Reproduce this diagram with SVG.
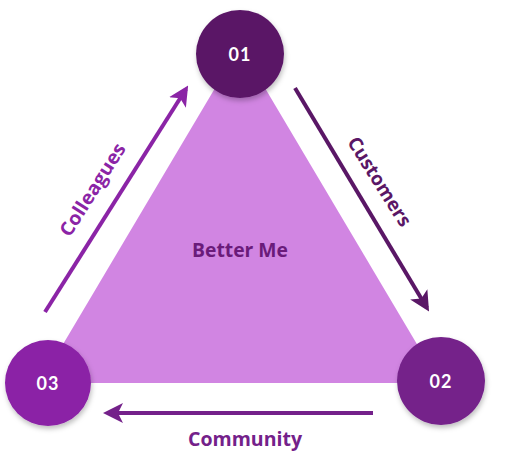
<svg xmlns="http://www.w3.org/2000/svg" width="512" height="459" viewBox="0 0 512 459">
  <defs>
    <style>
      .lbl { font-family: "Open Sans", "Liberation Sans", sans-serif; font-weight: bold; font-size: 19px; text-anchor: middle; }
      .num { font-family: "Lato", "Open Sans", sans-serif; font-weight: bold; font-size: 18px; fill: #ffffff; text-anchor: middle; dominant-baseline: central; letter-spacing: 1px; }
      .conn { fill: none; stroke-width: 4; }
    </style>
    <filter id="sh" x="-30%" y="-30%" width="160%" height="160%">
      <feDropShadow dx="1" dy="3" stdDeviation="2.5" flood-color="#000000" flood-opacity="0.25"/>
    </filter>
    <marker id="ahDark" viewBox="0 0 10 10" refX="8" refY="5" markerWidth="5" markerHeight="5" orient="auto" markerUnits="strokeWidth">
      <path d="M0,0 L10,5 L0,10 L2.5,5 Z" fill="#5a1766"/>
    </marker>
    <marker id="ahMid" viewBox="0 0 10 10" refX="8" refY="5" markerWidth="5" markerHeight="5" orient="auto" markerUnits="strokeWidth">
      <path d="M0,0 L10,5 L0,10 L2.5,5 Z" fill="#74218a"/>
    </marker>
    <marker id="ahLight" viewBox="0 0 10 10" refX="8" refY="5" markerWidth="5" markerHeight="5" orient="auto" markerUnits="strokeWidth">
      <path d="M0,0 L10,5 L0,10 L2.5,5 Z" fill="#8b24a6"/>
    </marker>
  </defs>

  <g id="triangle">
    <polygon points="240,46 40,383 440,383" fill="#d185e2"/>
    <text class="lbl" x="240" y="257" fill="#6a1b7a" textLength="96" lengthAdjust="spacingAndGlyphs">Better Me</text>
  </g>

  <g id="connectors">
    <line class="conn" x1="45" y1="312" x2="186" y2="89" stroke="#8b24a6" marker-end="url(#ahLight)"/>
    <line class="conn" x1="295" y1="88" x2="427" y2="308" stroke="#5a1766" marker-end="url(#ahDark)"/>
    <line class="conn" x1="373" y1="413" x2="107" y2="413" stroke="#74218a" marker-end="url(#ahMid)"/>
    <text class="lbl" fill="#8b24a6" transform="translate(93,190) rotate(-57.7)" y="6" textLength="106" lengthAdjust="spacingAndGlyphs">Colleagues</text>
    <text class="lbl" fill="#5a1766" transform="translate(379,182) rotate(57.7)" y="6" textLength="102" lengthAdjust="spacingAndGlyphs">Customers</text>
    <text class="lbl" fill="#74218a" x="245" y="446" textLength="114" lengthAdjust="spacingAndGlyphs">Community</text>
  </g>

  <g id="node01">
    <circle cx="240" cy="54" r="44" fill="#5a1766" filter="url(#sh)"/>
    <text class="num" x="240" y="54">01</text>
  </g>
  <g id="node02">
    <circle cx="441" cy="381" r="44" fill="#74218a" filter="url(#sh)"/>
    <text class="num" x="441" y="381">02</text>
  </g>
  <g id="node03">
    <circle cx="48" cy="383" r="43" fill="#8b24a6" filter="url(#sh)"/>
    <text class="num" x="48" y="383">03</text>
  </g>
</svg>
